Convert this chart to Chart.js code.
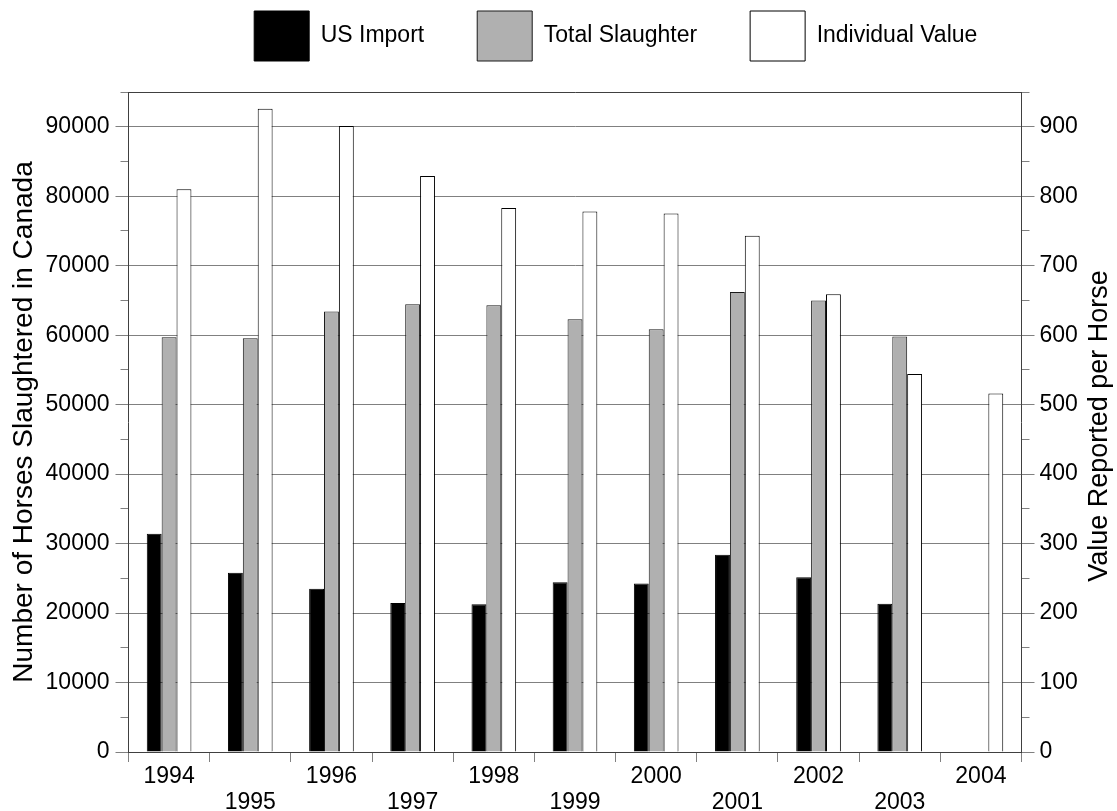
<!DOCTYPE html>
<html>
<head>
<meta charset="utf-8">
<script src="https://cdn.jsdelivr.net/npm/chart.js@4.4.1/dist/chart.umd.min.js"></script>
<style>
  html, body { margin: 0; padding: 0; background: #ffffff; }
  #wrap { width: 1117px; height: 811px; }
</style>
</head>
<body>
<div id="wrap"><canvas id="c" width="1117" height="811"></canvas></div>
<script>
// ---- data ----
const years = ['1994', '1995', '1996', '1997', '1998', '1999', '2000', '2001', '2002', '2003', '2004'];
const usImport = [31400, 25800, 23500, 21450, 21250, 24450, 24250, 28400, 25150, 21350, null];
const totalSlaughter = [59700, 59550, 63400, 64450, 64300, 62300, 60850, 66200, 65000, 59800, null];
const individualValue = [810, 926, 901, 829, 783, 778, 775, 743, 659, 544, 516];

// ---- tick values ----
const leftTicks = [0, 10000, 20000, 30000, 40000, 50000, 60000, 70000, 80000, 90000];
const leftMinorTicks = [0, 5000, 10000, 15000, 20000, 25000, 30000, 35000, 40000, 45000,
                        50000, 55000, 60000, 65000, 70000, 75000, 80000, 85000, 90000, 95000];
const rightTicks = [0, 100, 200, 300, 400, 500, 600, 700, 800, 900];
const rightMinorTicks = [0, 50, 100, 150, 200, 250, 300, 350, 400, 450,
                         500, 550, 600, 650, 700, 750, 800, 850, 900, 950];

const leftTitle = 'Number of Horses Slaughtered in Canada';
const rightTitle = 'Value Reported per Horse';

const FONT = '"Liberation Sans", Arial, Helvetica, sans-serif';
Chart.defaults.font.family = FONT;
Chart.defaults.color = '#000000';

const GRID = '#808080';
const AXIS = '#404040';

function setTicks(list) {
  return function (s) { s.ticks = list.map(function (v) { return { value: v }; }); };
}

// legend spacing below the boxes
const legendGap = {
  id: 'legendGap',
  afterInit(chart) {
    const lg = chart.legend;
    if (!lg || lg._gapPatched) return;
    const fit = lg.fit;
    lg.fit = function () { fit.call(this); this.height += 21; };
    lg._gapPatched = true;
  }
};

// right-hand axis title, reading bottom to top
const rightAxisTitle = {
  id: 'rightAxisTitle',
  afterDraw(chart) {
    const { ctx, chartArea } = chart;
    const s = chart.scales.y1;
    ctx.save();
    ctx.translate(s.left + 78.5, (chartArea.top + chartArea.bottom) / 2 + 4);
    ctx.rotate(-Math.PI / 2);
    ctx.font = '27px ' + FONT;
    ctx.fillStyle = '#000000';
    ctx.textAlign = 'center';
    ctx.textBaseline = 'middle';
    ctx.fillText(rightTitle, 0, 0);
    ctx.restore();
  }
};

new Chart(document.getElementById('c'), {
  type: 'bar',
  data: {
    labels: years,
    datasets: [
      {
        label: 'US Import',
        data: usImport,
        yAxisID: 'y',
        backgroundColor: '#000000',
        borderColor: '#000000',
        borderWidth: 1
      },
      {
        label: 'Total Slaughter',
        data: totalSlaughter,
        yAxisID: 'y',
        backgroundColor: '#b0b0b0',
        borderColor: '#1a1a1a',
        borderWidth: 1
      },
      {
        label: 'Individual Value',
        data: individualValue,
        yAxisID: 'y1',
        backgroundColor: '#ffffff',
        borderColor: '#000000',
        borderWidth: 1
      }
    ]
  },
  plugins: [legendGap, rightAxisTitle],
  options: {
    responsive: false,
    animation: false,
    devicePixelRatio: 1,
    categoryPercentage: 0.55,
    barPercentage: 1.0,
    layout: { padding: { top: -42, right: -114.5, left: 0, bottom: 0 } },
    plugins: {
      legend: {
        display: true,
        position: 'top',
        align: 'center',
        labels: {
          boxWidth: 55,
          boxHeight: 50,
          padding: 53,
          color: '#000000',
          font: { size: 23 }
        }
      },
      tooltip: { enabled: false }
    },
    scales: {
      x: {
        type: 'category',
        offset: true,
        grid: {
          offset: true,
          drawOnChartArea: false,
          drawTicks: true,
          tickLength: 10,
          tickColor: GRID
        },
        border: { display: true, color: AXIS, width: 1 },
        ticks: {
          autoSkip: false,
          maxRotation: 0,
          minRotation: 0,
          padding: 1,
          color: '#000000',
          font: { size: 23, lineHeight: 1.15 },
          callback: function (value, index) {
            return index % 2 ? ['', years[index]] : years[index];
          }
        },
        afterFit: function (s) { s.height = 59; }
      },
      y: {
        type: 'linear',
        position: 'left',
        weight: 1,
        min: 0,
        max: 95000,
        afterBuildTicks: setTicks(leftTicks),
        ticks: {
          padding: 6,
          color: '#000000',
          font: { size: 23 },
          callback: function (v) { return String(v); }
        },
        grid: {
          color: GRID,
          lineWidth: 1,
          tickLength: 13,
          tickColor: GRID
        },
        border: { display: true, color: AXIS, width: 1 },
        title: {
          display: true,
          text: leftTitle,
          color: '#000000',
          font: { size: 28 },
          padding: { top: 7, bottom: 0 }
        },
        afterFit: function (s) { s.width = 128.5; }
      },
      yMinor: {
        type: 'linear',
        position: 'left',
        weight: 0,
        min: 0,
        max: 95000,
        afterBuildTicks: setTicks(leftMinorTicks),
        ticks: { display: false },
        grid: {
          drawOnChartArea: true,
          color: function (c) { return c.tick && c.tick.value === 95000 ? AXIS : 'rgba(0,0,0,0)'; },
          tickLength: 8,
          tickColor: GRID
        },
        border: { display: false },
        afterFit: function (s) { s.width = 0; }
      },
      y1: {
        type: 'linear',
        position: 'right',
        weight: 1,
        min: 0,
        max: 950,
        afterBuildTicks: setTicks(rightTicks),
        ticks: {
          padding: 5,
          color: '#000000',
          font: { size: 23 },
          callback: function (v) { return String(v); }
        },
        grid: {
          drawOnChartArea: false,
          tickLength: 13,
          tickColor: GRID
        },
        border: { display: true, color: AXIS, width: 1 },
        afterFit: function (s) { s.width = 210; }
      },
      y1Minor: {
        type: 'linear',
        position: 'right',
        weight: 0,
        min: 0,
        max: 950,
        afterBuildTicks: setTicks(rightMinorTicks),
        ticks: { display: false },
        grid: {
          drawOnChartArea: false,
          tickLength: 8,
          tickColor: GRID
        },
        border: { display: false },
        afterFit: function (s) { s.width = 0; }
      }
    }
  }
});
</script>
</body>
</html>
